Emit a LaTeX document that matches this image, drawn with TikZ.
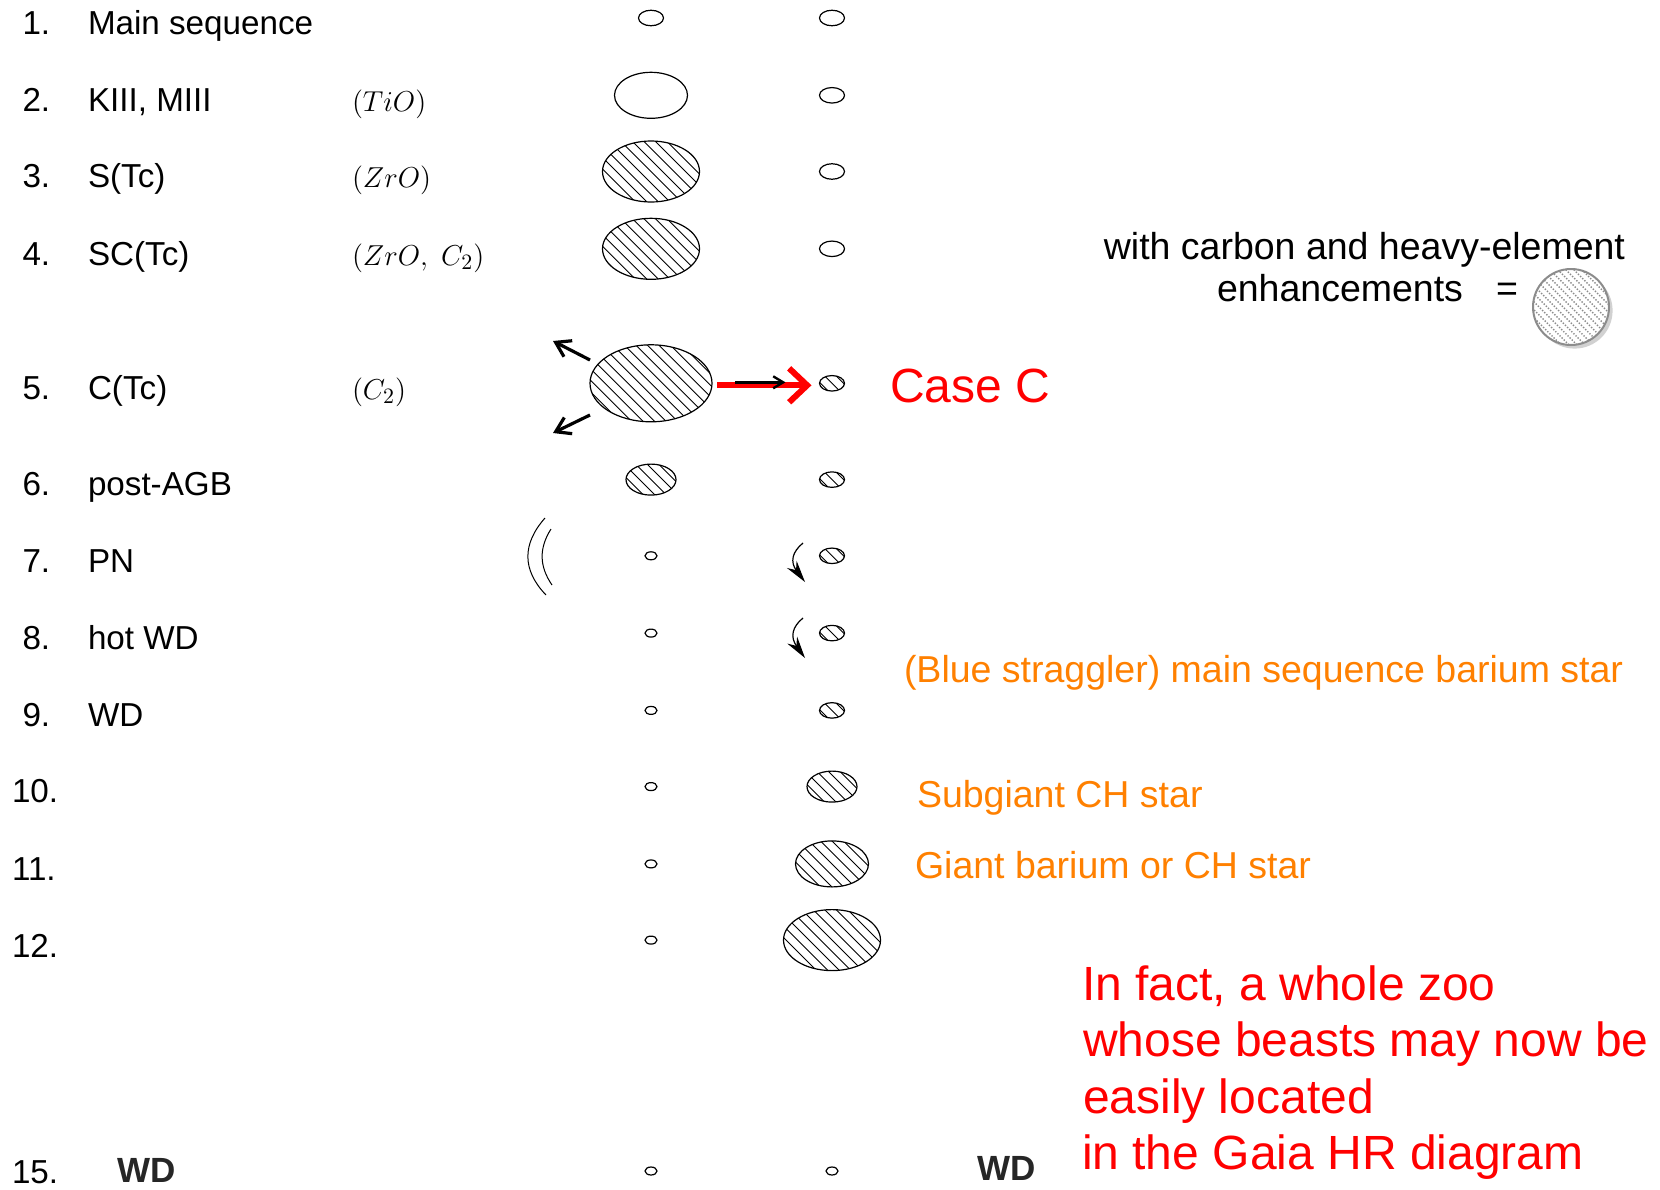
\documentclass[tikz,border=0pt]{standalone}
\usepackage{fontspec}
\setmainfont{Liberation Sans}
\usetikzlibrary{shapes.geometric,arrows.meta,shadows}
\definecolor{orng}{RGB}{255,128,0}
\definecolor{myred}{RGB}{255,0,0}
\definecolor{legray}{RGB}{140,140,140}
\tikzset{
  body/.style={ellipse,draw,line width=0.6pt,inner sep=0pt,outer sep=0pt},
  es/.style={body,minimum width=12.5pt,minimum height=7.75pt},
  et/.style={body,minimum width=6pt,minimum height=4pt},
  emid/.style={body,minimum width=36.5pt,minimum height=23pt},
  ebig/.style={body,minimum width=48.5pt,minimum height=30.5pt},
  ehuge/.style={body,minimum width=61pt,minimum height=38.5pt},
  ems/.style={body,minimum width=25pt,minimum height=15.5pt},
  hatch/.style={path picture={
    \foreach \k in {-11,...,11}{
      \draw[line width=0.45pt] ([xshift=\k*5.75pt]path picture bounding box.center) +(-45pt,45pt) -- +(45pt,-45pt);
    }}},
  lhatch/.style={path picture={
    \foreach \k in {-10,...,10}{
      \draw[legray,line width=0.7pt,dash pattern=on 0.7pt off 0.8pt] ([xshift=\k*4pt]path picture bounding box.center) +(-25pt,25pt) -- +(25pt,-25pt);
    }}},
  txt/.style={inner sep=0pt,outer sep=0pt,anchor=base west,font=\fontsize{16.6}{19}\selectfont},
  mol/.style={inner sep=0pt,outer sep=0pt,anchor=base west,font=\fontsize{15}{18}\selectfont},
  otxt/.style={inner sep=0pt,outer sep=0pt,anchor=base west,text=orng,font=\fontsize{18.75}{22}\selectfont},
  ltxt/.style={inner sep=0pt,outer sep=0pt,font=\fontsize{18.75}{22}\selectfont},
  rtxt/.style={inner sep=0pt,outer sep=0pt,anchor=base west,text=myred,font=\fontsize{24}{28}\selectfont},
  wdtxt/.style={inner sep=0pt,outer sep=0pt,anchor=center,text=black!85,font=\fontsize{17.5}{20}\bfseries\selectfont},
  barb/.style={line width=1.6pt,-{Straight Barb[length=7pt,width=9pt]}},
  redarrow/.style={myred,line width=3pt,-{Straight Barb[length=9pt,width=17pt]}},
  hook/.style={line width=0.6pt,-{Stealth[length=11pt,width=6pt]}}
}
\begin{document}
\begin{tikzpicture}[x=0.5pt,y=-0.5pt]
\useasboundingbox (0,0) rectangle (1660,1189);
% row numbers
\node[txt] (n1) at (22.5,34.5) {1.};
\node[txt] (n2) at (22.5,111.6) {2.};
\node[txt] (n3) at (22.5,187.8) {3.};
\node[txt] (n4) at (22.5,265.1) {4.};
\node[txt] (n5) at (22.5,399.5) {5.};
\node[txt] (n6) at (22.5,495.9) {6.};
\node[txt] (n7) at (22.5,572.1) {7.};
\node[txt] (n8) at (22.5,649.4) {8.};
\node[txt] (n9) at (22.5,726.7) {9.};
\node[txt] (n10) at (12,802.9) {10.};
\node[txt] (n11) at (12,880.2) {11.};
\node[txt] (n12) at (12,957.5) {12.};
\node[txt] (n15) at (12,1183) {15.};
% labels
\node[txt] (l1) at (88,34.5) {Main sequence};
\node[txt] (l2) at (88,111.6) {KIII, MIII};
\node[txt] (l3) at (88,187.8) {S(Tc)};
\node[txt] (l4) at (88,265.1) {SC(Tc)};
\node[txt] (l5) at (88,399.5) {C(Tc)};
\node[txt] (l6) at (88,495.9) {post-AGB};
\node[txt] (l7) at (88,572.1) {PN};
\node[txt] (l8) at (88,649.4) {hot WD};
\node[txt] (l9) at (88,726.7) {WD};
\node[wdtxt] (wdl) at (146.5,1170) {WD};
\node[wdtxt] (wdr) at (1007,1168) {WD};
% molecules
\node[mol] (m2) at (352,111.6) {$(TiO)$};
\node[mol] (m3) at (352,187.8) {$(ZrO)$};
\node[mol] (m4) at (352,265.1) {$(ZrO,\ C_2)$};
\node[mol] (m5) at (352,399.5) {$(C_2)$};
% left column
\node[es] (e1l) at (651,18) {};
\node[emid] (e2l) at (651,95.3) {};
\node[ebig,hatch] (e3l) at (651,171.5) {};
\node[ebig,hatch] (e4l) at (651,248.8) {};
\node[ehuge,hatch] (e5l) at (651,383.3) {};
\node[ems,hatch] (e6l) at (651,479.6) {};
\node[et] (e7l) at (651,555.8) {};
\node[et] (e8l) at (651,633.1) {};
\node[et] (e9l) at (651,710.4) {};
\node[et] (e10l) at (651,786.6) {};
\node[et] (e11l) at (651,863.9) {};
\node[et] (e12l) at (651,940.1) {};
\node[et] (e15l) at (651,1171) {};
% right column
\node[es] (e1r) at (832,18) {};
\node[es] (e2r) at (832,95.3) {};
\node[es] (e3r) at (832,171.5) {};
\node[es] (e4r) at (832,248.8) {};
\node[es,hatch] (e5r) at (832,383.3) {};
\node[es,hatch] (e6r) at (832,479.6) {};
\node[es,hatch] (e7r) at (832,555.8) {};
\node[es,hatch] (e8r) at (832,633.1) {};
\node[es,hatch] (e9r) at (832,710.4) {};
\node[ems,hatch] (e10r) at (832,786.6) {};
\node[emid,hatch] (e11r) at (832,863.9) {};
\node[ebig,hatch] (e12r) at (832,940.1) {};
\node[et] (e15r) at (832,1171) {};
% arrows at row 5
\coordinate (ulS) at (590,360);
\coordinate (ulE) at (553,341);
\coordinate (llS) at (590,415);
\coordinate (llE) at (553,433);
\draw[barb] (ulS) -- (ulE);
\draw[barb] (llS) -- (llE);
\draw[redarrow,shorten <=2.5pt,shorten >=4pt] ([yshift=-1pt]e5l.east) -- ([yshift=-1pt]e5r.west);
\draw[line width=1.2pt,-{Straight Barb[length=5pt,width=6pt]},shorten <=11.5pt,shorten >=17pt] ([yshift=0.5pt]e5l.east) -- ([yshift=0.5pt]e5r.west);
% PN shells
\coordinate (pnA) at (545,518);
\coordinate (pnB) at (546,595);
\coordinate (pnC) at (551,529);
\coordinate (pnD) at (552,585);
\draw[line width=0.5pt] (pnA) .. controls (522,544) and (522,570) .. (pnB);
\draw[line width=0.5pt] (pnC) .. controls (539,548) and (539,566) .. (pnD);
% hook arrows
\coordinate (h7a) at (803,543);
\coordinate (h7b) at (805,582);
\coordinate (h8a) at (803,618);
\coordinate (h8b) at (805,658);
\draw[hook] (h7a) .. controls (792,552) and (790,562) .. (h7b);
\draw[hook] (h8a) .. controls (792,627) and (790,637) .. (h8b);
% Case C
\node[rtxt] (casec) at (890,402) {Case C};
% legend
\node[ltxt,anchor=base east] (leg1) at (1625,259) {with carbon and heavy-element};
\node[ltxt,anchor=base west] (leg2) at (1217,301.5) {enhancements};
\node[ltxt,anchor=base west] (leg3) at (1496,301.5) {=};
\node[circle,draw=legray,line width=1pt,fill=white,minimum size=38pt,inner sep=0pt,lhatch,
  drop shadow={shadow xshift=1.8pt,shadow yshift=-1.8pt,opacity=0.3,fill=black!60}] (legstar) at (1571,307) {};
% orange labels
\node[otxt] (o1) at (904,682) {(Blue straggler) main sequence barium star};
\node[otxt] (o2) at (917,807.5) {Subgiant CH star};
\node[otxt] (o3) at (915,878.5) {Giant barium or CH star};
% red paragraph
\node[rtxt] (z1) at (1082,1000) {In fact, a whole zoo};
\node[rtxt] (z2) at (1083,1056.5) {whose beasts may now be};
\node[rtxt] (z3) at (1083,1113) {easily located};
\node[rtxt] (z4) at (1082,1169.5) {in the Gaia HR diagram};
\end{tikzpicture}
\end{document}
